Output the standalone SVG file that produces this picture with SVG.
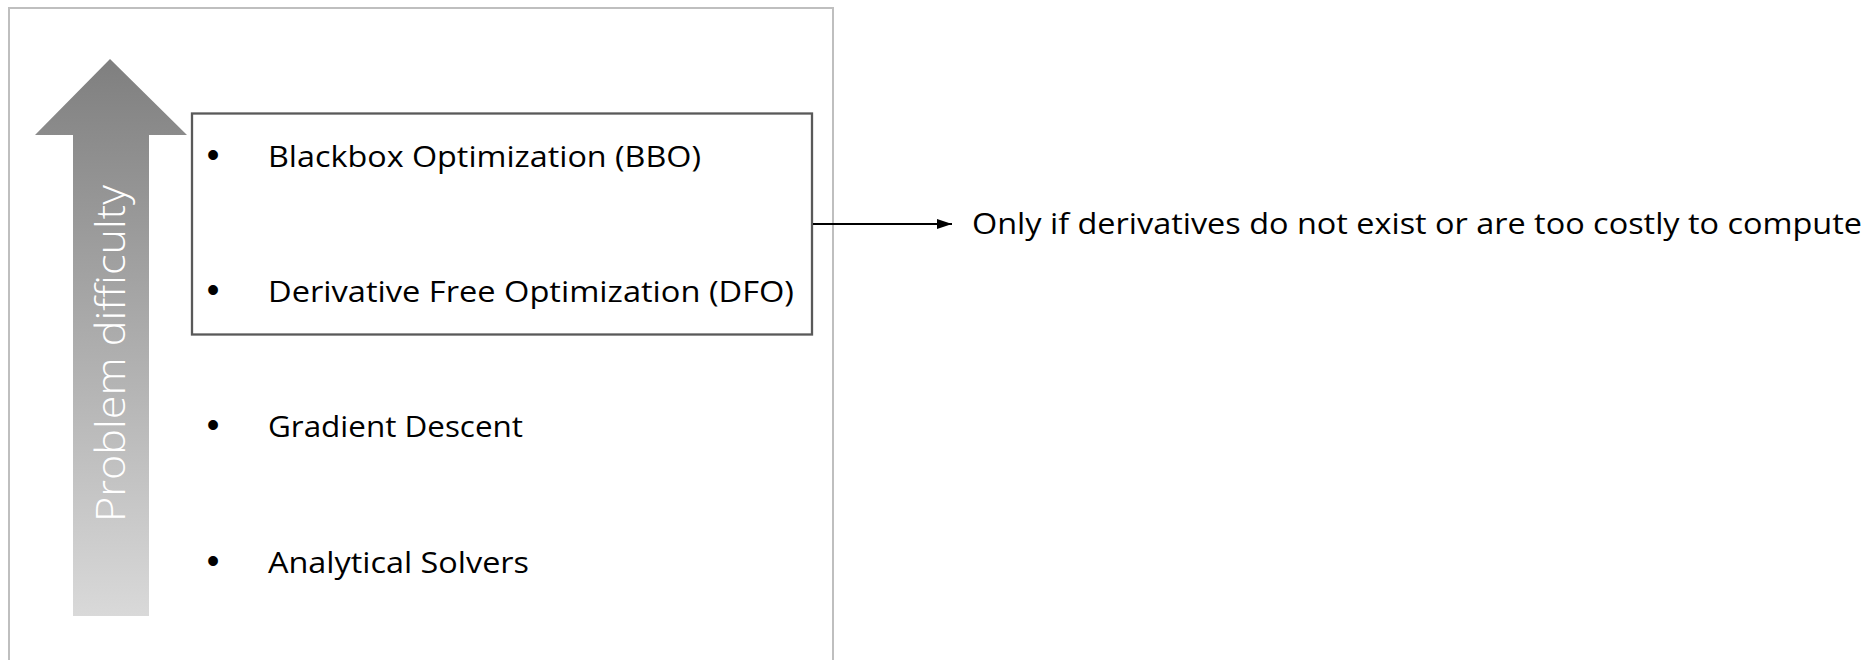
<svg xmlns="http://www.w3.org/2000/svg" width="1875" height="660" viewBox="0 0 1875 660">
  <defs>
    <linearGradient id="arrowGrad" x1="0" y1="59" x2="0" y2="616" gradientUnits="userSpaceOnUse">
      <stop offset="0" stop-color="#7f7f7f"/>
      <stop offset="1" stop-color="#d9d9d9"/>
    </linearGradient>
    <marker id="arrowHead" viewBox="0 0 15 10" refX="15" refY="5" markerWidth="7.5" markerHeight="5" markerUnits="strokeWidth" orient="auto">
      <path d="M0,0 L15,5 L0,10 z" fill="#000"/>
    </marker>
    <style>
      .item { font-family: "Open Sans", "Noto Sans", "Liberation Sans", sans-serif; font-size: 29px; fill: #000; }
      .bullet { font-family: "Liberation Sans", sans-serif; font-size: 36px; fill: #000; text-anchor: middle; }
      .vert { font-family: "Open Sans", "Noto Sans", "Liberation Sans", sans-serif; font-weight: 300; font-size: 41px; fill: #ffffff; }
    </style>
  </defs>
  <rect width="1875" height="660" fill="#ffffff"/>

  <g id="frame">
    <rect x="9" y="8" width="824" height="670" fill="none" stroke="#bfbfbf" stroke-width="2"/>
  </g>

  <g id="difficulty-arrow">
    <polygon points="110,59 187,135 149,135 149,616 73,616 73,135 35,135" fill="url(#arrowGrad)"/>
    <text class="vert" transform="translate(124.5,522) rotate(-90)" textLength="337" lengthAdjust="spacingAndGlyphs">Problem difficulty</text>
  </g>

  <g id="dfo-box">
    <rect x="192" y="113.5" width="620" height="221" fill="none" stroke="#595959" stroke-width="2.3"/>
  </g>

  <g id="item-bbo">
    <text class="bullet" x="213" y="167">•</text>
    <text class="item" x="268" y="167" textLength="433" lengthAdjust="spacingAndGlyphs">Blackbox Optimization (BBO)</text>
  </g>

  <g id="item-dfo">
    <text class="bullet" x="213" y="302">•</text>
    <text class="item" x="268" y="302" textLength="526" lengthAdjust="spacingAndGlyphs">Derivative Free Optimization (DFO)</text>
  </g>

  <g id="item-gd">
    <text class="bullet" x="213" y="437">•</text>
    <text class="item" x="268" y="437" textLength="255" lengthAdjust="spacingAndGlyphs">Gradient Descent</text>
  </g>

  <g id="item-analytical">
    <text class="bullet" x="213" y="573">•</text>
    <text class="item" x="268" y="573" textLength="261" lengthAdjust="spacingAndGlyphs">Analytical Solvers</text>
  </g>

  <g id="note">
    <text class="item" x="972" y="234" textLength="890" lengthAdjust="spacingAndGlyphs">Only if derivatives do not exist or are too costly to compute</text>
  </g>

  <g id="connectors">
    <line x1="813" y1="224" x2="952" y2="224" stroke="#000" stroke-width="2" marker-end="url(#arrowHead)"/>
  </g>
</svg>
